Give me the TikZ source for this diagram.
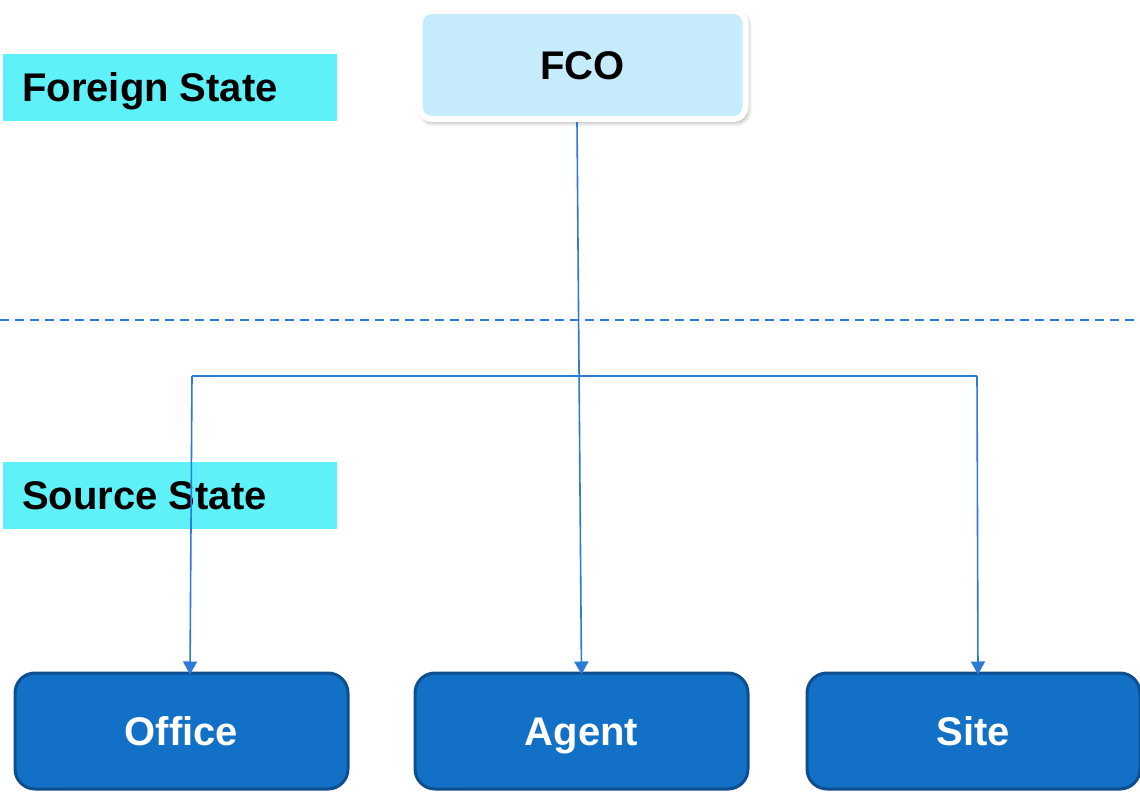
\documentclass[tikz,border=0pt]{standalone}
\usepackage{fontspec}
\setmainfont{Liberation Sans}
\usetikzlibrary{arrows.meta,shadows.blur}
\definecolor{linkblue}{HTML}{2B7BD8}
\definecolor{boxblue}{HTML}{1270C7}
\definecolor{boxedge}{HTML}{0E4E8E}
\definecolor{statecyan}{HTML}{5EF1F8}
\definecolor{fcofill}{HTML}{C6ECFC}
\tikzset{
  bigtext/.style={font=\fontsize{40}{46}\selectfont\bfseries, text height=28.8pt, text depth=0pt},
  statelabel/.style={fill=statecyan, minimum width=334pt, minimum height=67pt, inner sep=0pt},
  statetext/.style={bigtext, anchor=west, inner sep=0pt, text=black},
  topbox/.style={fill=fcofill, draw=white, line width=6pt, rounded corners=12pt,
    minimum width=326pt, minimum height=108pt, inner sep=0pt, bigtext, text=black,
    blur shadow={shadow xshift=2pt, shadow yshift=-3pt, shadow blur radius=5pt,
      shadow blur steps=10, shadow opacity=40}},
  unitbox/.style={fill=boxblue, draw=boxedge, line width=3pt, rounded corners=20pt,
    minimum width=333pt, minimum height=116pt, inner sep=0pt, bigtext, text=white},
  link/.style={draw=linkblue, line width=1.6pt},
  arr/.style={link, -{Triangle[length=13pt,width=14pt]}},
}
\begin{document}
\begin{tikzpicture}[x=1pt,y=-1pt]
\useasboundingbox (0,0) rectangle (1140,794);

% region labels
\node[statelabel] (foreign) at (170,87.5) {};
\node[statetext] (foreigntxt) at (22,87) {Foreign State};
\node[statelabel] (source) at (170,495.5) {};
\node[statetext] (sourcetxt) at (22,495) {Source State};

% border between the states
\coordinate (dl) at (0,320);
\coordinate (dr) at (1140,320);
\draw[draw=linkblue, line width=1.6pt, dash pattern=on 9pt off 6pt] (dl) -- (dr);

% boxes
\node[topbox] (fco) at (582.5,65) {FCO};
\node[unitbox] (office) at (181.5,731) {Office};
\node[unitbox] (agent) at (581.5,731) {Agent};
\node[unitbox] (site) at (973.5,731) {Site};

% connectors
\coordinate (lt) at (192,376);
\coordinate (rt) at (977,376);
\draw[link] (lt) -- (rt);
\draw[arr] ([xshift=-5.5pt]fco.south) -- ([yshift=-3pt]agent.north);
\draw[arr] (lt) -- ([xshift=8.5pt,yshift=-3pt]office.north);
\draw[arr] (rt) -- ([xshift=4.5pt,yshift=-3pt]site.north);
\end{tikzpicture}
\end{document}
